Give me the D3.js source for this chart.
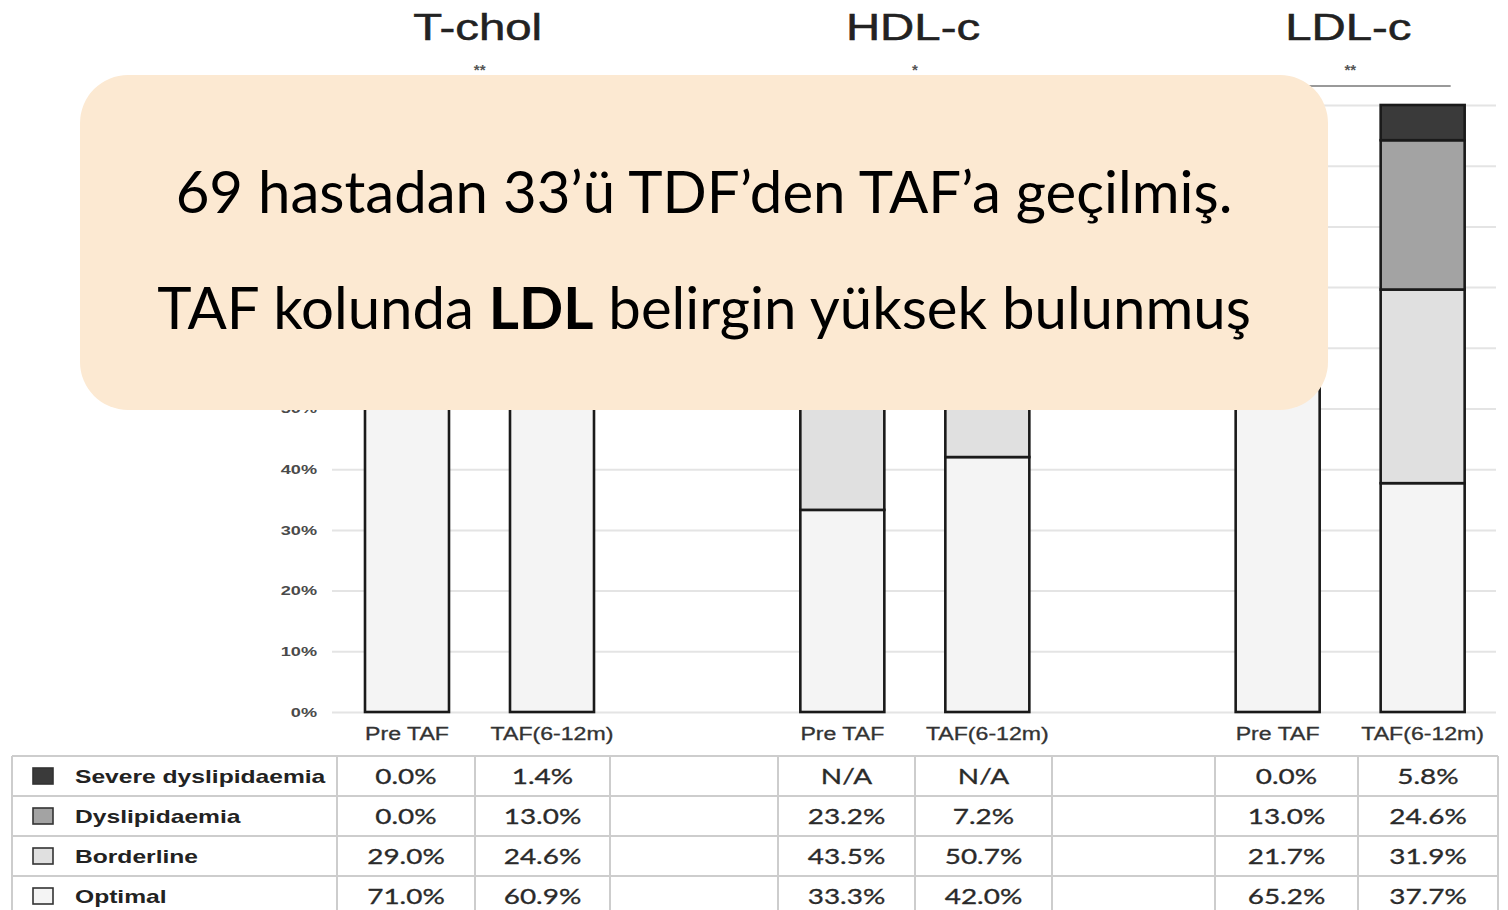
<!DOCTYPE html>
<html><head><meta charset="utf-8">
<script src="https://cdn.jsdelivr.net/npm/d3@7"></script>
<style>body{margin:0;background:#fff;} svg{display:block;}</style>
</head><body><svg id="c" width="1508" height="910"></svg>
<script>
// ---------- data ----------
const groups = ["T-chol", "HDL-c", "LDL-c"];
const significance = ["**", "*", "**"];
const periods = ["Pre TAF", "TAF(6-12m)"];
const categories = ["Severe dyslipidaemia", "Dyslipidaemia", "Borderline", "Optimal"];
// values [group][period], % ; null = N/A
const severe     = [[0.0, 1.4], [null, null], [0.0, 5.8]];
const dyslip     = [[0.0, 13.0], [23.2, 7.2], [13.0, 24.6]];
const borderline = [[29.0, 24.6], [43.5, 50.7], [21.7, 31.9]];
const optimal    = [[71.0, 60.9], [33.3, 42.0], [65.2, 37.7]];
const yTicks = [0, 10, 20, 30, 40, 50, 60, 70, 80, 90, 100];
const noteLine1 = "69 hastadan 33’ü TDF’den TAF’a geçilmiş.";
const noteLine2 = ["TAF kolunda ", "LDL", " belirgin yüksek bulunmuş"];

const seriesValues = [severe, dyslip, borderline, optimal]; // same order as categories
const colors = ["#3a3a3a", "#a3a3a3", "#e0e0e0", "#f4f4f4"];

// ---------- setup ----------
const svg = d3.select("#c");
const ARIAL = "'Liberation Sans', Arial, sans-serif";
const CAL = "Lato, 'Open Sans', sans-serif";
function stretch(sel, sx) {
  sel.each(function () {
    const l = this.getComputedTextLength();
    d3.select(this).attr("textLength", l * sx).attr("lengthAdjust", "spacingAndGlyphs");
  });
}
const noteBox = { x: 80, y: 75, w: 1248, h: 335 };

const y = d3.scaleLinear().domain([0, 100]).range([712, 105]);
const xG = d3.scaleBand().domain(groups).range([262, 1568]).padding(0);
const xP = d3.scaleBand().domain(periods).range([103, 332]).paddingInner(61 / 145).paddingOuter(0);

// ---------- grid / y axis ----------
const gridLeft = 332, gridRight = 1496;
const yAxis = d3.axisLeft(y).tickValues(yTicks).tickSize(-(gridRight - gridLeft))
  .tickPadding(15).tickFormat(d => d + "%");
const ga = svg.append("g").attr("transform", `translate(${gridLeft},0)`).call(yAxis);
ga.select(".domain").remove();
ga.selectAll(".tick line").attr("stroke", "#e4e4e4").attr("stroke-width", 2);
ga.selectAll(".tick text").attr("font-family", ARIAL).attr("font-size", 12.5)
  .attr("font-weight", "bold").attr("fill", "#4a4a4a").attr("dy", "0.35em");
// labels fully hidden behind the note box are not drawn
ga.selectAll(".tick text").filter(d => y(d) < noteBox.y + noteBox.h - 4).remove();
stretch(ga.selectAll(".tick text"), 1.45);

// ---------- bars ----------
const stackOrder = [3, 2, 1, 0]; // optimal bottom ... severe top
groups.forEach((g, gi) => {
  const gg = svg.append("g").attr("transform", `translate(${xG(g)},0)`);
  periods.forEach((p, pi) => {
    let cum = 0;
    const segs = stackOrder.map(ci => {
      const v = seriesValues[ci][gi][pi] || 0;
      const s = { ci, y0: cum, y1: cum + v };
      cum += v;
      return s;
    }).filter(s => s.y1 > s.y0);
    gg.selectAll(null).data(segs).enter().append("rect")
      .attr("x", xP(p)).attr("width", xP.bandwidth())
      .attr("y", d => y(d.y1)).attr("height", d => y(d.y0) - y(d.y1))
      .attr("fill", d => colors[d.ci])
      .attr("stroke", "#1a1a1a").attr("stroke-width", 2.6);
  });
  // x labels
  gg.selectAll(null).data(periods).enter().append("text")
    .attr("x", d => xP(d) + xP.bandwidth() / 2).attr("y", 740)
    .attr("text-anchor", "middle").attr("font-family", ARIAL).attr("font-size", 17.5)
    .attr("fill", "#333").attr("stroke", "#333").attr("stroke-width", 0.3).text(d => d)
    .call(s => stretch(s, 1.32));
  // title
  gg.append("text").attr("x", xG.bandwidth() / 2 - 2).attr("y", 40)
    .attr("text-anchor", "middle").attr("font-family", ARIAL).attr("font-size", 37)
    .attr("fill", "#222").attr("stroke", "#222").attr("stroke-width", 0.5).text(g)
    .call(s => stretch(s, 1.28));
  // significance
  gg.append("text").attr("x", xG.bandwidth() / 2).attr("y", 75)
    .attr("text-anchor", "middle").attr("font-family", ARIAL).attr("font-size", 15)
    .attr("font-weight", "bold").attr("fill", "#555").text(significance[gi]);
  gg.append("line")
    .attr("x1", xP(periods[0]) + 14).attr("x2", xP(periods[1]) + xP.bandwidth() - 14)
    .attr("y1", 86).attr("y2", 86).attr("stroke", "#777").attr("stroke-width", 1.5);
});

// ---------- table ----------
const colEdges = [12, 337, 475, 610, 778, 915, 1052, 1215, 1358, 1498];
const tableTop = 756, rowH = 40;
const tg = svg.append("g");
categories.forEach((c, ri) => {
  const yTop = tableTop + ri * rowH, yMid = yTop + rowH / 2;
  tg.append("rect").attr("x", 33).attr("y", yMid - 8).attr("width", 20).attr("height", 16)
    .attr("fill", colors[ri]).attr("stroke", "#333").attr("stroke-width", 1.6);
  tg.append("text").attr("x", 75).attr("y", yMid + 7).attr("font-family", ARIAL)
    .attr("font-weight", "bold").attr("font-size", 18.5).attr("fill", "#222").text(c)
    .call(s => stretch(s, 1.33));
  groups.forEach((g, gi) => {
    periods.forEach((p, pi) => {
      const ci = gi * 3 + 1 + pi;
      const cx = (colEdges[ci] + colEdges[ci + 1]) / 2;
      const v = seriesValues[ri][gi][pi];
      tg.append("text").attr("x", cx).attr("y", yMid + 8).attr("text-anchor", "middle")
        .attr("font-family", CAL).attr("font-size", 22).attr("fill", "#2a2a2a")
        .attr("stroke", "#2a2a2a").attr("stroke-width", 0.3)
        .text(v === null ? "N/A" : v.toFixed(1) + "%")
        .call(s => stretch(s, 1.27));
    });
  });
});
// table lines
const nRows = categories.length;
for (let r = 0; r <= nRows; r++) {
  tg.append("line").attr("x1", colEdges[0]).attr("x2", colEdges[colEdges.length - 1])
    .attr("y1", tableTop + r * rowH).attr("y2", tableTop + r * rowH)
    .attr("stroke", "#cdcdcd").attr("stroke-width", 2);
}
colEdges.forEach(x => {
  tg.append("line").attr("x1", x).attr("x2", x).attr("y1", tableTop).attr("y2", tableTop + nRows * rowH)
    .attr("stroke", "#cdcdcd").attr("stroke-width", 2);
});

// ---------- overlay note ----------
const note = svg.append("g");
note.append("rect").attr("x", noteBox.x).attr("y", noteBox.y).attr("width", noteBox.w).attr("height", noteBox.h)
  .attr("rx", 48).attr("ry", 48).attr("fill", "#fce9d2");
const t1 = note.append("text").attr("x", 704).attr("y", 213).attr("text-anchor", "middle")
  .attr("font-family", CAL).attr("font-size", 56).attr("fill", "#000").text(noteLine1);
const w1 = t1.node().getComputedTextLength();
const fs = 56 * 1057 / w1;
t1.attr("font-size", fs);
const t2 = note.append("text").attr("x", 704).attr("y", 329).attr("text-anchor", "middle")
  .attr("font-family", CAL).attr("font-size", fs).attr("fill", "#000");
noteLine2.forEach((s, i) => t2.append("tspan").attr("font-weight", i === 1 ? "bold" : "normal").text(s));
</script>
</body></html>
